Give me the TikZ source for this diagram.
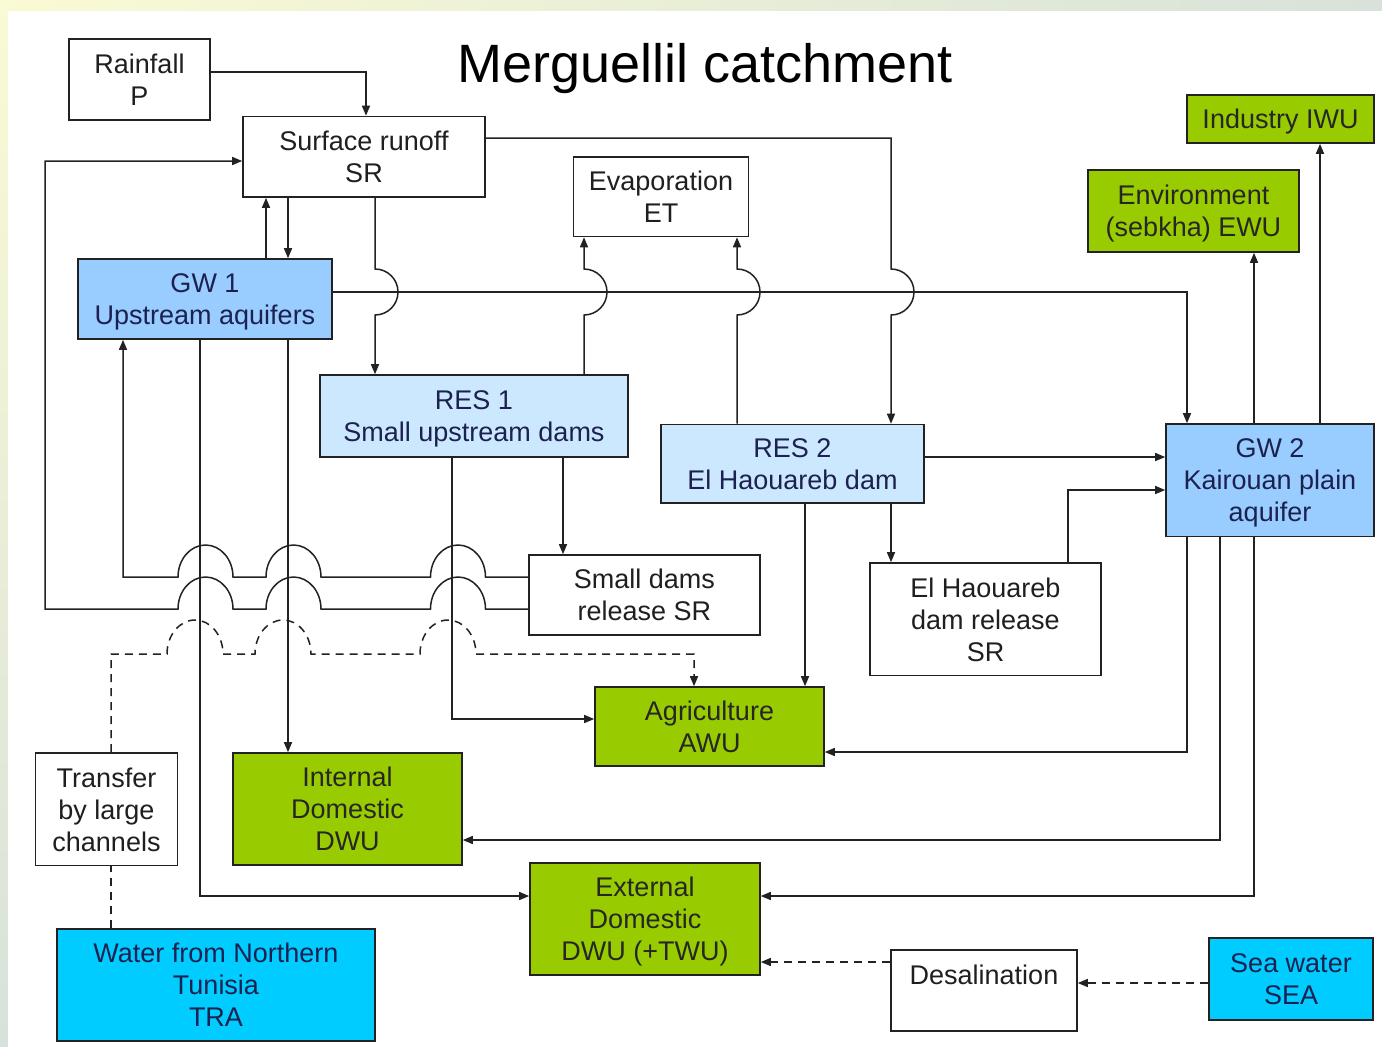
\documentclass[tikz,border=0pt]{standalone}
\usepackage{fontspec}
\setmainfont{Liberation Sans}
\usetikzlibrary{arrows.meta,shadings}

\definecolor{agreen}{HTML}{99CC00}
\definecolor{gwblue}{HTML}{99CCFF}
\definecolor{resblue}{HTML}{CCE8FF}
\definecolor{seacyan}{HTML}{00CCFF}
\definecolor{inkline}{HTML}{222222}
\definecolor{navytext}{HTML}{1C2150}
\definecolor{bgyellow}{HTML}{FAFAD4}
\definecolor{bggrey}{HTML}{D8E2DA}

\begin{document}
\begin{tikzpicture}[x=1pt,y=-1pt,
  font=\fontsize{27}{32}\selectfont,
  box/.style={draw=inkline, line width=1.6pt, align=center, inner sep=0pt, text depth=0pt, text=black!88},
  plainbox/.style={box, fill=white},
  usebox/.style={box, fill=agreen, text=black!85},
  gwbox/.style={box, fill=gwblue, text=navytext},
  resbox/.style={box, fill=resblue, text=navytext},
  seabox/.style={box, fill=seacyan, text=navytext},
  link/.style={draw=inkline, line width=1.5pt},
  flow/.style={link, -{Triangle[length=10pt,width=8pt]}},
  dashes/.style={dash pattern=on 8pt off 6pt},
]
% page background and white panel
\useasboundingbox (0,0) rectangle (1382,1047);
\shade[upper left=bgyellow, upper right=bggrey, lower left=bggrey, lower right=bggrey] (0,0) rectangle (1382,1047);
\fill[white] (8,10.5) rectangle (1382,1047);

% title
\node[font=\fontsize{54}{60}\selectfont, anchor=base, text=black] (title) at (705,82) {Merguellil catchment};

% boxes
\node[plainbox, minimum width=141pt, minimum height=81pt] (rain) at (139.5,79.5) {Rainfall\\P};
\node[plainbox, minimum width=242pt, minimum height=80.5pt] (sr) at (364,156.75) {Surface runoff\\SR};
\node[plainbox, minimum width=175pt, minimum height=79.5pt] (et) at (661,196.75) {Evaporation\\ET};
\node[usebox, minimum width=187pt, minimum height=48pt] (iwu) at (1280.5,119) {Industry IWU};
\node[usebox, minimum width=211pt, minimum height=82pt] (ewu) at (1193.5,211) {Environment\\(sebkha) EWU};
\node[gwbox, minimum width=254pt, minimum height=80pt] (gw1) at (205,299) {GW 1\\Upstream aquifers};
\node[resbox, minimum width=308pt, minimum height=82pt] (res1) at (474,416) {RES 1\\Small upstream dams};
\node[resbox, minimum width=263pt, minimum height=78.5pt] (res2) at (792.5,463.75) {RES 2\\El Haouareb dam};
\node[gwbox, minimum width=208pt, minimum height=112.5pt] (gw2) at (1270,480.25) {GW 2\\Kairouan plain\\aquifer};
\node[plainbox, minimum width=231pt, minimum height=80pt] (sdr) at (644.5,595) {Small dams\\release SR};
\node[plainbox, minimum width=231pt, minimum height=112.5pt] (ehr) at (985.5,619.25) {El Haouareb\\dam release\\SR};
\node[usebox, minimum width=229pt, minimum height=79pt] (awu) at (709.5,726.5) {Agriculture\\AWU};
\node[plainbox, minimum width=142pt, minimum height=112.5pt] (trf) at (106.5,809.25) {Transfer\\by large\\channels};
\node[usebox, minimum width=229pt, minimum height=112pt] (dwu) at (347.5,809) {Internal\\Domestic\\DWU};
\node[usebox, minimum width=230pt, minimum height=112pt] (ext) at (645,919) {External\\Domestic\\DWU (+TWU)};
\node[plainbox, minimum width=186pt, minimum height=81pt] (des) at (984,990.5) {Desalination\\~};
\node[seabox, minimum width=164pt, minimum height=82pt] (sea) at (1291,979) {Sea water\\SEA};
\node[seabox, minimum width=318pt, minimum height=112pt] (tra) at (216,985) {Water from Northern\\Tunisia\\TRA};

% rainfall feeds runoff
\draw[flow] (rain.east |- 0,72) -| (sr.north -| 366,0);

% release of the small dams back to runoff (outer loop, hopping three lines)
\draw[flow] (sdr.west |- 0,609) -- (485.5,609)
  arc[start angle=0, end angle=180, x radius=27.5pt, y radius=32pt] -- (321,609)
  arc[start angle=0, end angle=180, x radius=27.5pt, y radius=32pt] -- (233,609)
  arc[start angle=0, end angle=180, x radius=27.5pt, y radius=32pt] -- (45,609)
  |- (sr.west |- 0,161);

% release of the small dams to the upstream aquifers (inner loop)
\draw[flow] (sdr.west |- 0,577) -- (485.5,577)
  arc[start angle=0, end angle=180, x radius=27.5pt, y radius=32pt] -- (321,577)
  arc[start angle=0, end angle=180, x radius=27.5pt, y radius=32pt] -- (233,577)
  arc[start angle=0, end angle=180, x radius=27.5pt, y radius=32pt] -- (123,577)
  -- (gw1.south -| 123,0);

% exchanges between runoff and the upstream aquifers
\draw[flow] (gw1.north -| 266,0) -- (sr.south -| 266,0);
\draw[flow] (sr.south -| 288,0) -- (gw1.north -| 288,0);

% runoff to the reservoirs
\draw[flow] (sr.south -| 375,0) -- (375,269)
  arc[start angle=90, end angle=-90, radius=23pt] -- (res1.north -| 375,0);
\draw[flow] (sr.east |- 0,138) -- (891,138) -- (891,269)
  arc[start angle=90, end angle=-90, radius=23pt] -- (res2.north -| 891,0);

% upstream aquifers to the Kairouan plain aquifer
\draw[flow] (gw1.east |- 0,292) -| (gw2.north -| 1187,0);

% evaporation from the reservoirs
\draw[flow] (res1.north -| 584,0) -- (584,315)
  arc[start angle=-90, end angle=90, radius=23pt] -- (et.south -| 584,0);
\draw[flow] (res2.north -| 737,0) -- (737,315)
  arc[start angle=-90, end angle=90, radius=23pt] -- (et.south -| 737,0);

% small upstream dams
\draw[flow] (res1.south -| 563,0) -- (sdr.north -| 563,0);
\draw[flow] (res1.south -| 452,0) |- (awu.west |- 0,719);

% upstream aquifers to domestic uses
\draw[flow] (gw1.south -| 200,0) |- (ext.west |- 0,896);
\draw[flow] (gw1.south -| 288,0) -- (dwu.north -| 288,0);

% El Haouareb dam
\draw[flow] (res2.south -| 805,0) -- (awu.north -| 805,0);
\draw[flow] (res2.south -| 891,0) -- (ehr.north -| 891,0);
\draw[flow] (res2.east |- 0,457) -- (gw2.west |- 0,457);
\draw[flow] (ehr.north -| 1068,0) |- (gw2.west |- 0,490);

% Kairouan plain aquifer to the uses
\draw[flow] (gw2.north -| 1254,0) -- (ewu.south -| 1254,0);
\draw[flow] (gw2.north -| 1320,0) -- (iwu.south -| 1320,0);
\draw[flow] (gw2.south -| 1187,0) |- (awu.east |- 0,752);
\draw[flow] (gw2.south -| 1220,0) |- (dwu.east |- 0,840);
\draw[flow] (gw2.south -| 1254,0) |- (ext.east |- 0,896);

% transfer from northern Tunisia (dashed)
\draw[link, dashes] (tra.north -| 111,0) -- (trf.south -| 111,0);
\draw[flow, dashes] (trf.north -| 111,0) -- (111,654) -- (167,654)
  arc[start angle=180, end angle=0, x radius=28pt, y radius=34pt] -- (255,654)
  arc[start angle=180, end angle=0, x radius=28pt, y radius=34pt] -- (420,654)
  arc[start angle=180, end angle=0, x radius=28pt, y radius=34pt] -- (694,654)
  -- (awu.north -| 694,0);

% desalination (dashed)
\draw[flow, dashes] (des.west |- 0,962) -- (ext.east |- 0,962);
\draw[flow, dashes] (sea.west |- 0,983) -- (des.east |- 0,983);
\end{tikzpicture}
\end{document}
